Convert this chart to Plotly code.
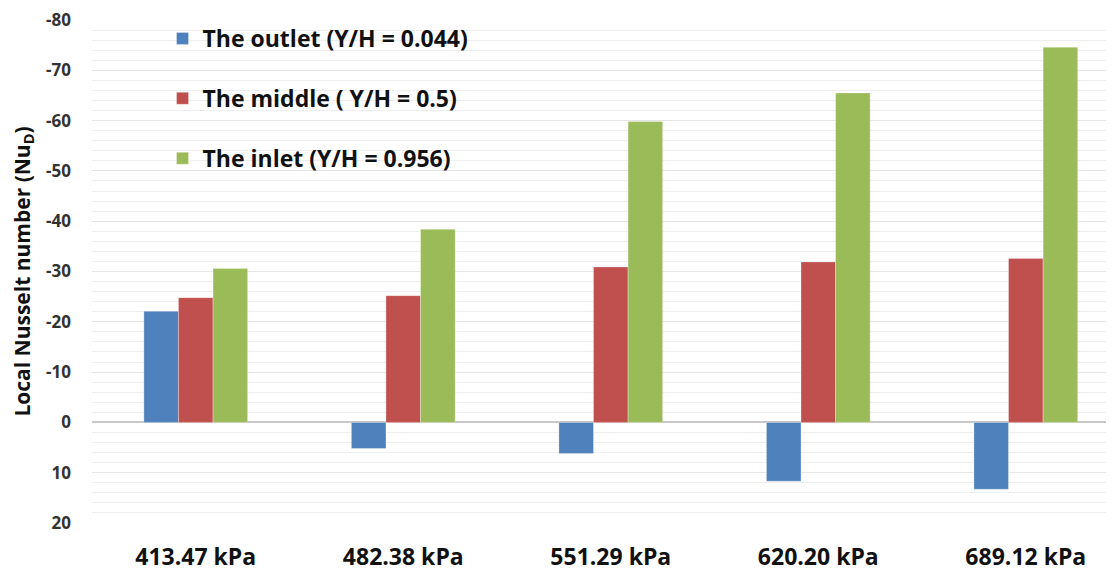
import plotly.graph_objects as go

categories = ["413.47 kPa", "482.38 kPa", "551.29 kPa", "620.20 kPa", "689.12 kPa"]
outlet = [-22.1, 5.2, 6.2, 11.7, 13.3]
middle = [-24.8, -25.2, -30.9, -31.9, -32.6]
inlet = [-30.6, -38.4, -59.8, -65.5, -74.6]
series_names = ["The outlet (Y/H = 0.044)", "The middle ( Y/H = 0.5)", "The inlet (Y/H = 0.956)"]
colors = ["#4F81BD", "#C0504D", "#9BBB59"]
tick_vals = [-80, -70, -60, -50, -40, -30, -20, -10, 0, 10, 20]

fig = go.Figure()
for i, (name, vals, col) in enumerate(zip(series_names, [outlet, middle, inlet], colors)):
    fig.add_trace(go.Bar(x=categories, y=vals, name=name, marker_color=col,
                         marker_line=dict(color="rgba(255,255,255,0.6)", width=0.5),
                         legendgroup=f"g{i}"))

font_fam = "'Open Sans', sans-serif"
# page body has an 8px margin, so the figure is sized to fit within the window
fig.update_layout(
    width=1106, height=563,
    margin=dict(l=84, r=0, t=12, b=48, autoexpand=False),
    paper_bgcolor="white", plot_bgcolor="white",
    barmode="group", bargap=0.5, bargroupgap=0,
    font=dict(family=font_fam, color="#222"),
    showlegend=True,
    legend=dict(x=0.069, y=1.006, xanchor="left", yanchor="top",
                font=dict(size=23, family=font_fam, color="#111", weight="bold"),
                bgcolor="rgba(0,0,0,0)", tracegroupgap=27, itemwidth=30),
)
fig.update_yaxes(
    range=[20, -80], tickvals=tick_vals, ticktext=[str(v) for v in tick_vals],
    tickfont=dict(size=17, color="#333", weight="bold"),
    showgrid=True, gridcolor="#e6e6e6", gridwidth=1,
    minor=dict(dtick=2, showgrid=True, gridcolor="#eeeeee", gridwidth=1),
    zeroline=True, zerolinecolor="#c8c8c8", zerolinewidth=1.5,
    showline=False, ticks="", ticklabelstandoff=20, automargin=False,
    ticklabeloverflow="allow",
    title=dict(text="Local Nusselt number (Nu<sub>D</sub>)",
               font=dict(size=21, color="#111", weight="bold"), standoff=18),
)
fig.update_xaxes(
    range=[-0.5, 4.425],
    showgrid=False, showline=False, ticks="", automargin=False,
    ticklabeloverflow="allow",
    tickfont=dict(size=23, color="#111", weight="bold"), ticklabelstandoff=18,
)
fig.write_html("out.html")
